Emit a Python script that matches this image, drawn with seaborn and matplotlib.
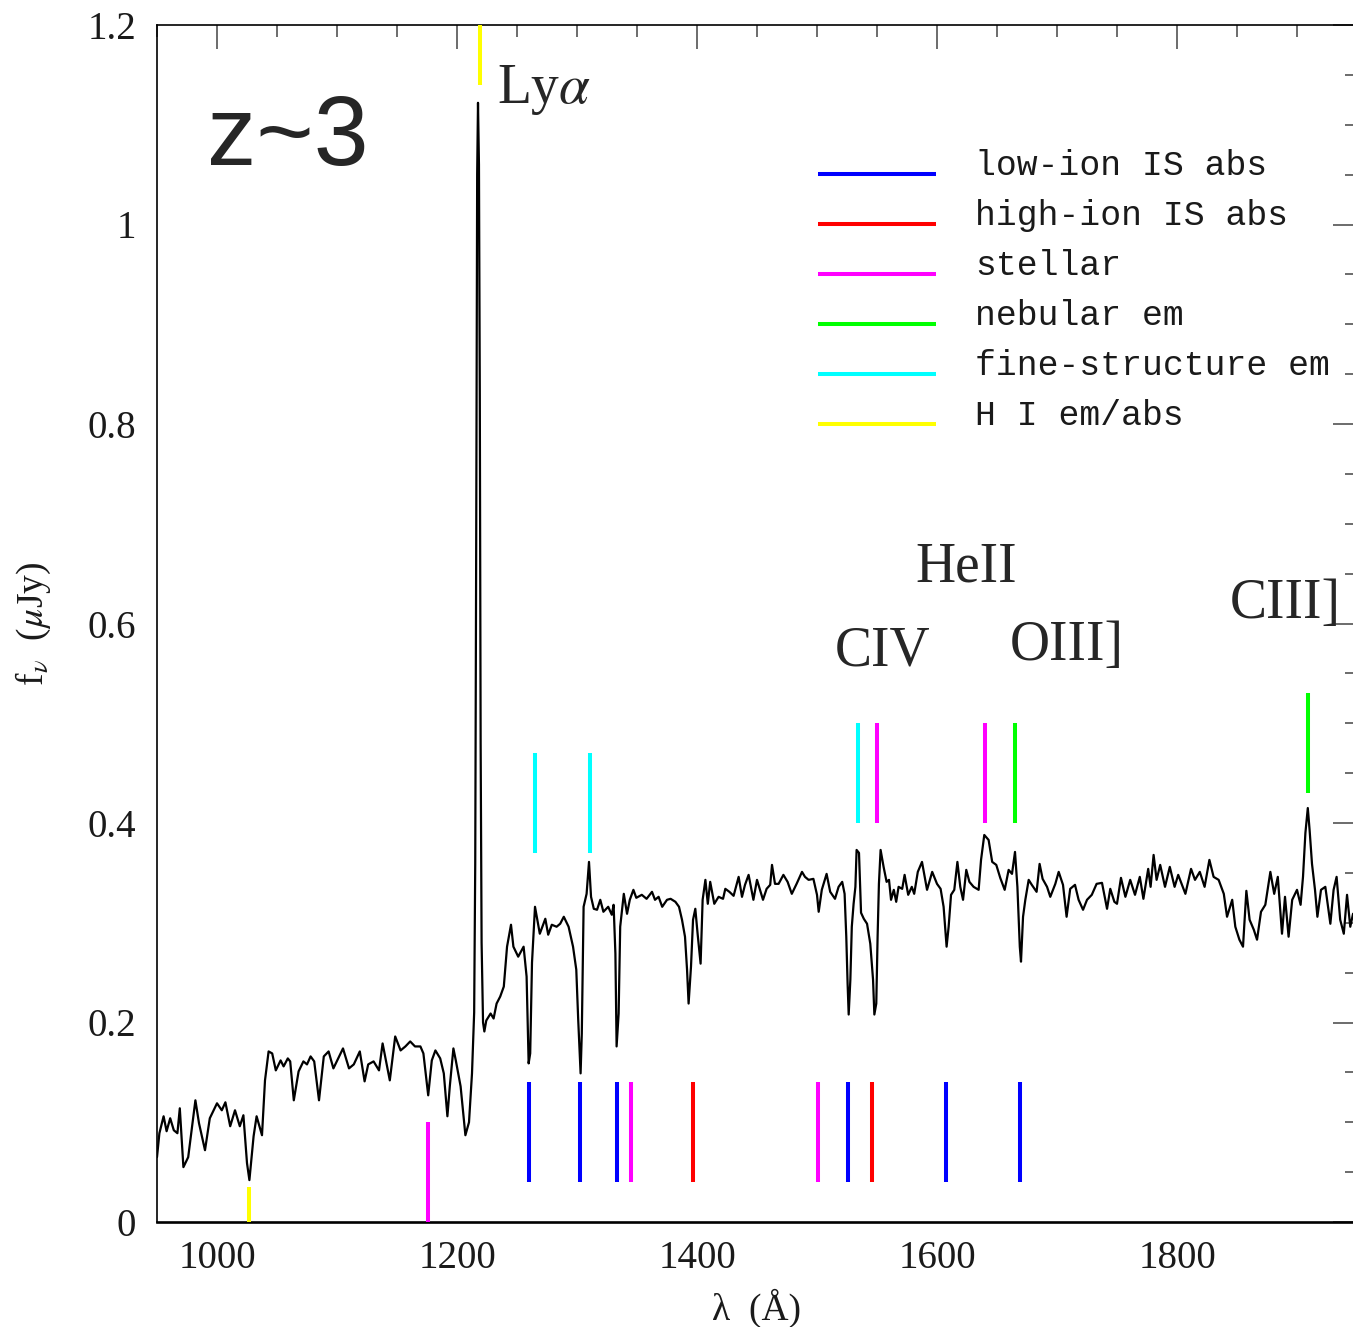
import matplotlib
matplotlib.use("Agg")
import matplotlib.pyplot as plt
import seaborn as sns
import pandas as pd
from matplotlib.ticker import MultipleLocator, FixedLocator, FixedFormatter

# ---------------- data ----------------
wave = [950, 952, 955.5, 958, 961, 964, 967, 969, 972, 976, 982, 985, 990, 994, 1000, 1004, 1007, 1011,
        1015, 1019, 1022, 1025, 1027, 1030.5, 1033, 1037.5, 1040, 1043, 1046, 1049, 1053, 1055.5, 1059,
        1061, 1064, 1068, 1072, 1075, 1078, 1081, 1085, 1089, 1093, 1097, 1101, 1105, 1110, 1114, 1119,
        1123, 1126, 1130.5, 1135, 1138, 1144, 1148.5,
        1153, 1157, 1161, 1165, 1169.5, 1172, 1176, 1179, 1182, 1186, 1189, 1192, 1194, 1197, 1199, 1203,
        1207, 1210, 1212.5, 1214.3, 1215.2, 1216, 1216.8, 1217.5, 1218.3, 1219, 1219.7, 1220.5, 1221.7,
        1222.8, 1224.4, 1228, 1230.5, 1233, 1236, 1239, 1241.7, 1245, 1247, 1251, 1255.5, 1258, 1259.7,
        1261, 1262.5, 1265, 1269, 1273.6, 1276, 1279, 1283, 1286, 1289, 1293, 1296.7, 1299.4, 1301, 1303,
        1304, 1305.5, 1308, 1310, 1311.7, 1314, 1316.7, 1319.4, 1322, 1326, 1329, 1330.5, 1332, 1333,
        1334.7, 1336, 1339, 1341.7, 1344, 1347, 1349.4,
        1354, 1358, 1362.5, 1365, 1368, 1371, 1375, 1378, 1382, 1385, 1387.5, 1390, 1391.7, 1393, 1395,
        1396.7, 1398.6, 1400.5, 1403, 1404.7, 1407, 1409, 1411, 1414.4, 1418, 1421.7, 1423.6, 1427, 1430.5,
        1434.7, 1437.5, 1440, 1443, 1447, 1450, 1455, 1458, 1461, 1462.5, 1465, 1468, 1472, 1475.5, 1479,
        1483, 1487.5, 1490, 1493, 1497, 1500, 1501.4, 1504, 1508, 1511, 1515, 1518, 1521, 1523, 1524.4,
        1525.5, 1526.4, 1527.8, 1529, 1530.5, 1532, 1533, 1535, 1536.7, 1539, 1541.7, 1544.4, 1546.7,
        1547.8, 1549.4,
        1550.5, 1551.6, 1553, 1555.5, 1558, 1560, 1561.7, 1564, 1566, 1568, 1571, 1573, 1576, 1579, 1581,
        1584, 1587.5, 1591.7, 1596, 1600, 1603, 1605.5, 1608, 1609.7, 1611.7, 1614.4, 1617, 1619.4, 1621.7,
        1624.4, 1627, 1630.5, 1634.7, 1636.7, 1639.4, 1643, 1646, 1649.4, 1652.7, 1656.4, 1659.7, 1662.5,
        1665, 1667, 1669, 1670, 1671.7, 1673.6, 1676.4, 1679, 1683, 1685.5, 1688, 1691.7, 1694.4, 1698.6,
        1701.4, 1705, 1708, 1711, 1715, 1718, 1721.7, 1725, 1729, 1733, 1737.5, 1741.7, 1744.4, 1747.8,
        1750, 1753.3, 1757, 1761, 1765, 1769, 1772, 1776, 1778, 1780.5, 1783, 1786, 1790, 1794, 1798, 1801,
        1807, 1811.7, 1815, 1819, 1823, 1827, 1830.5, 1834.7, 1839, 1841.7, 1846, 1848.6, 1852, 1855,
        1857.8, 1860.5, 1864, 1866.7, 1870, 1873.6, 1877.8, 1881, 1884, 1887.5, 1890, 1893, 1896, 1900,
        1903, 1905, 1907, 1909, 1910.5, 1912.5, 1915, 1917, 1920, 1923.6, 1927.8, 1930.5, 1933, 1936, 1939,
        1941.7, 1944.4, 1946.7, 1950]

flux = [0.065, 0.089, 0.106, 0.091, 0.104, 0.092, 0.089, 0.114, 0.055, 0.065, 0.122, 0.099, 0.072, 0.104,
        0.119, 0.112, 0.120, 0.096, 0.112, 0.096, 0.107, 0.059, 0.042, 0.086, 0.106, 0.087, 0.142, 0.171,
        0.169, 0.152, 0.162, 0.156, 0.164, 0.161, 0.122, 0.151, 0.161, 0.158, 0.166, 0.161, 0.122, 0.166,
        0.171, 0.154, 0.164, 0.174, 0.154, 0.158, 0.171, 0.141, 0.158, 0.161, 0.152, 0.179, 0.142, 0.186,
        0.172, 0.176, 0.181, 0.176, 0.176, 0.169, 0.127, 0.162, 0.172, 0.164, 0.149, 0.106, 0.136, 0.174,
        0.162, 0.136, 0.087, 0.100, 0.149, 0.21, 0.36, 0.68, 1.05, 1.122, 1.06, 0.83, 0.48, 0.28, 0.20,
        0.191, 0.202, 0.209, 0.204, 0.219, 0.226, 0.236, 0.276, 0.298, 0.276, 0.266, 0.276, 0.246, 0.159,
        0.169, 0.26, 0.316, 0.289, 0.304, 0.288, 0.298, 0.296, 0.299, 0.306, 0.296, 0.276, 0.253, 0.203,
        0.149, 0.189, 0.316, 0.329, 0.361, 0.326, 0.314, 0.313, 0.323, 0.311, 0.316, 0.308, 0.318, 0.269,
        0.176, 0.209, 0.296, 0.329, 0.309, 0.323, 0.333, 0.325,
        0.328, 0.324, 0.331, 0.323, 0.326, 0.316, 0.323, 0.324, 0.321, 0.316, 0.303, 0.286, 0.253, 0.219,
        0.256, 0.303, 0.314, 0.289, 0.259, 0.323, 0.343, 0.319, 0.341, 0.319, 0.326, 0.324, 0.334, 0.331,
        0.327, 0.346, 0.326, 0.338, 0.348, 0.323, 0.343, 0.323, 0.334, 0.338, 0.358, 0.339, 0.339, 0.348,
        0.341, 0.329, 0.339, 0.351, 0.346, 0.343, 0.344, 0.328, 0.311, 0.333, 0.349, 0.331, 0.324, 0.336,
        0.341, 0.329, 0.286, 0.239, 0.208, 0.243, 0.296, 0.319, 0.336, 0.373, 0.37, 0.31, 0.304, 0.299,
        0.279, 0.243, 0.208, 0.219,
        0.286, 0.339, 0.373, 0.356, 0.341, 0.343, 0.323, 0.333, 0.321, 0.336, 0.334, 0.348, 0.328, 0.336,
        0.329, 0.351, 0.361, 0.333, 0.351, 0.339, 0.334, 0.316, 0.276, 0.296, 0.328, 0.333, 0.361, 0.336,
        0.323, 0.353, 0.341, 0.336, 0.333, 0.363, 0.388, 0.383, 0.361, 0.358, 0.345, 0.333, 0.353, 0.349,
        0.371, 0.336, 0.276, 0.261, 0.306, 0.323, 0.343, 0.338, 0.331, 0.359, 0.344, 0.336, 0.326, 0.339,
        0.351, 0.338, 0.306, 0.334, 0.338, 0.323, 0.313, 0.323, 0.328, 0.339, 0.34, 0.314, 0.334, 0.321,
        0.319, 0.345, 0.326, 0.343, 0.328, 0.346, 0.324, 0.354, 0.336, 0.368, 0.343, 0.358, 0.336, 0.356,
        0.336, 0.348, 0.329, 0.354, 0.343, 0.351, 0.336, 0.363, 0.346, 0.343, 0.329, 0.306, 0.323, 0.296,
        0.283, 0.276, 0.332, 0.303, 0.293, 0.283, 0.311, 0.318, 0.351, 0.329, 0.346, 0.289, 0.326, 0.286,
        0.323, 0.333, 0.318, 0.346, 0.39, 0.415, 0.393, 0.359, 0.333, 0.306, 0.333, 0.336, 0.299, 0.333,
        0.346, 0.303, 0.289, 0.328, 0.296, 0.309, 0.31]

# line identifications: wavelengths of marks
low_ion_lines = [1260.4, 1302.7, 1333.3, 1526.0, 1607.5, 1669.2]
high_ion_lines = [1396.8, 1546.0]
stellar_lines_low = [1345.0, 1500.6]
stellar_lines_base = [1175.8]
stellar_lines_up = [1550.0, 1639.6]
nebular_lines = [1664.6]
nebular_lines_ciii = [1909.4]
fine_lines_low = [1264.8, 1310.7]
fine_lines_up = [1534.2]
hi_lines_bottom = [1027.0]
hi_lines_top = [1219.2]

legend_labels = ["low-ion IS abs", "high-ion IS abs", "stellar", "nebular em",
                 "fine-structure em", "H I em/abs"]
legend_colors = ["#0000ff", "#ff0000", "#ff00ff", "#00ff00", "#00ffff", "#ffff00"]

line_names = ["CIV", "HeII", "OIII]", "CIII]"]
line_name_x = [1515.0, 1581.7, 1660.8, 1844.2]
line_name_y = [0.558, 0.642, 0.563, 0.6055]

ytick_vals = [0, 0.2, 0.4, 0.6, 0.8, 1.0, 1.2]
ytick_labels = ["0", "0.2", "0.4", "0.6", "0.8", "1", "1.2"]
xtick_vals = [1000, 1200, 1400, 1600, 1800]
xtick_labels = ["1000", "1200", "1400", "1600", "1800"]

# ---------------- plot ----------------
sns.set_style("white")
plt.rcParams["font.family"] = ["Liberation Serif", "DejaVu Serif"]
plt.rcParams["mathtext.fontset"] = "stix"
SERIF = ["Liberation Serif", "DejaVu Serif"]
MONO = ["Liberation Mono", "DejaVu Sans Mono"]

W, H = 1353, 1327
fig = plt.figure(figsize=(W / 100, H / 100), dpi=100)
ax = fig.add_axes([157 / W, 105 / H, 1200 / W, 1197 / H])

df = pd.DataFrame({"wave": wave, "flux": flux})
sns.lineplot(data=df, x="wave", y="flux", ax=ax, color="black", lw=1.6,
             estimator=None, sort=False, zorder=3)

mark_lw = 2.9
marks = [
    (low_ion_lines, 0.04, 0.14, legend_colors[0]),
    (high_ion_lines, 0.04, 0.14, legend_colors[1]),
    (stellar_lines_low, 0.04, 0.14, legend_colors[2]),
    (stellar_lines_base, 0.0, 0.10, legend_colors[2]),
    (stellar_lines_up, 0.40, 0.50, legend_colors[2]),
    (nebular_lines, 0.40, 0.50, legend_colors[3]),
    (nebular_lines_ciii, 0.43, 0.53, legend_colors[3]),
    (fine_lines_low, 0.37, 0.47, legend_colors[4]),
    (fine_lines_up, 0.40, 0.50, legend_colors[4]),
    (hi_lines_bottom, 0.0, 0.035, legend_colors[5]),
    (hi_lines_top, 1.14, 1.2, legend_colors[5]),
]
for xs, y0, y1, c in marks:
    ax.vlines(xs, y0, y1, colors=c, lw=mark_lw, zorder=4)

ax.set_xlim(950, 1950)
ax.set_ylim(0, 1.2)

# ticks
ax.xaxis.set_major_locator(FixedLocator(xtick_vals))
ax.xaxis.set_major_formatter(FixedFormatter(xtick_labels))
ax.xaxis.set_minor_locator(MultipleLocator(50))
ax.yaxis.set_major_locator(FixedLocator(ytick_vals))
ax.yaxis.set_major_formatter(FixedFormatter(ytick_labels))
ax.yaxis.set_minor_locator(MultipleLocator(0.05))
ax.tick_params(which="both", direction="in", top=True, right=True,
               color="#444444", width=1.1, labelsize=28, labelcolor="#1a1a1a")
ax.tick_params(which="major", length=17.3)
ax.tick_params(which="minor", length=8.6)
ax.tick_params(axis="x", pad=13)
ax.tick_params(axis="y", pad=15)

for s in ["left", "top", "right"]:
    ax.spines[s].set_linewidth(1.2)
    ax.spines[s].set_color("black")
ax.spines["bottom"].set_linewidth(1.9)
ax.spines["bottom"].set_color("black")

ax.set_xlabel("λ  (Å)", fontsize=27, color="#1a1a1a")
ax.set_ylabel(r"f$_{\nu}$  ($\mu$Jy)", fontsize=27, color="#1a1a1a")
ax.xaxis.set_label_coords(0.5, -0.056)
ax.yaxis.set_label_coords(-0.087, 0.5)

# legend drawn in axes coordinates
for i, (lab, c) in enumerate(zip(legend_labels, legend_colors)):
    yy = (1222 - (174 + 50 * i)) / 1197
    ax.plot([0.551, 0.649], [yy, yy], color=c, lw=mark_lw, transform=ax.transAxes,
            solid_capstyle="butt", zorder=5)
    ax.text(0.6817, yy - 1 / 1197, lab, transform=ax.transAxes, fontsize=25, family=MONO,
            va="baseline", ha="left", color="#1a1a1a")

# annotations
ax.text(991.7, 1.06, "z~3", fontsize=71, family=["Liberation Sans", "DejaVu Sans"],
        va="baseline", ha="left")
ax.text(1233.0, 1.122, r"Ly$\alpha$", fontsize=40, family=SERIF,
        va="baseline", ha="left")
for name, xx, yy in zip(line_names, line_name_x, line_name_y):
    ax.text(xx, yy, name, fontsize=40, family=SERIF, va="baseline", ha="left")

fig.savefig("out.png", dpi=100)
